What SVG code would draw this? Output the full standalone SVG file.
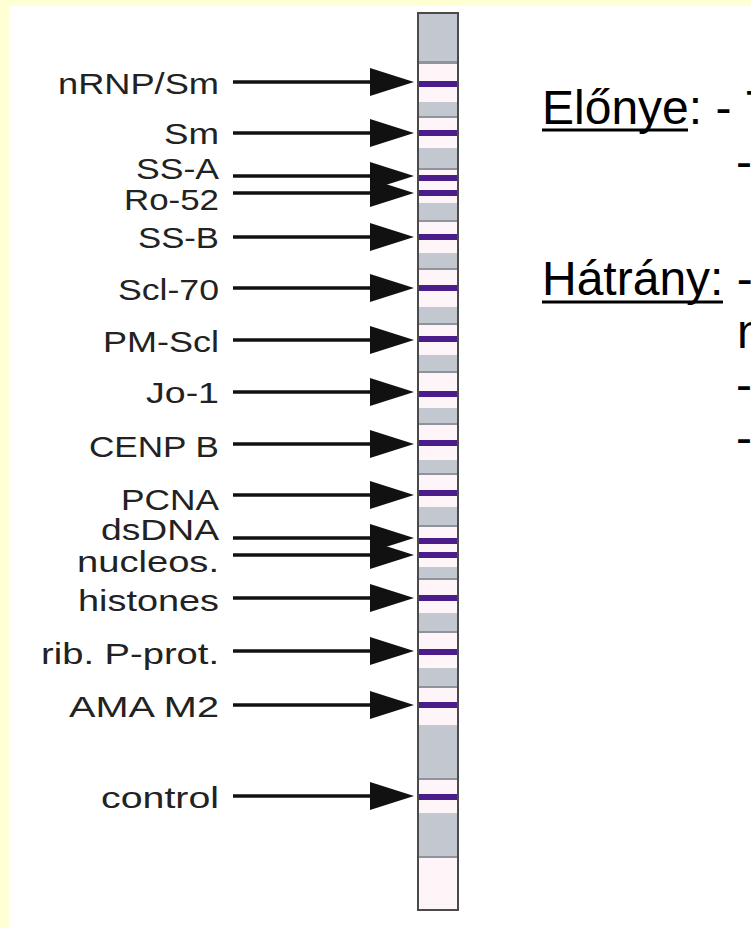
<svg xmlns="http://www.w3.org/2000/svg" width="751" height="928" viewBox="0 0 751 928">
<defs>
<style>
.lbl{font-family:"Liberation Sans",Arial,Helvetica,sans-serif;font-size:29px;fill:#222;text-anchor:end}
.big{font-family:"Liberation Sans",Arial,Helvetica,sans-serif;font-size:48px;fill:#000}
.conn line{stroke:#111;stroke-width:3.5}
.conn polygon{fill:#111}
.grey{fill:#c3c7cf}
.gline{fill:#8f939b}
.band{fill:#4a1d8a}
.ul{stroke:#000;stroke-width:3}
</style>
</defs>
<rect x="0" y="0" width="751" height="928" fill="#ffffd4"/>
<rect x="9" y="6" width="742" height="922" fill="#ffffff"/>

<g id="strip">
<rect x="418" y="13" width="40" height="897" fill="#fdf5f8"/>
<g>
<rect class="grey" x="418" y="13" width="40" height="50"/><rect class="gline" x="418" y="61" width="40" height="3"/>
<rect class="grey" x="418" y="102" width="40" height="16"/><rect class="gline" x="418" y="116" width="40" height="2"/>
<rect class="grey" x="418" y="148" width="40" height="22"/><rect class="gline" x="418" y="168" width="40" height="2"/>
<rect class="grey" x="418" y="203" width="40" height="19"/><rect class="gline" x="418" y="220" width="40" height="2"/>
<rect class="grey" x="418" y="253" width="40" height="17"/><rect class="gline" x="418" y="268" width="40" height="2"/>
<rect class="grey" x="418" y="307" width="40" height="18"/><rect class="gline" x="418" y="323" width="40" height="2"/>
<rect class="grey" x="418" y="355" width="40" height="18"/><rect class="gline" x="418" y="371" width="40" height="2"/>
<rect class="grey" x="418" y="408" width="40" height="17"/><rect class="gline" x="418" y="423" width="40" height="2"/>
<rect class="grey" x="418" y="460" width="40" height="15"/><rect class="gline" x="418" y="473" width="40" height="2"/>
<rect class="grey" x="418" y="507" width="40" height="20"/><rect class="gline" x="418" y="525" width="40" height="2"/>
<rect class="grey" x="418" y="567" width="40" height="13"/><rect class="gline" x="418" y="578" width="40" height="2"/>
<rect class="grey" x="418" y="613" width="40" height="20"/><rect class="gline" x="418" y="631" width="40" height="2"/>
<rect class="grey" x="418" y="668" width="40" height="20"/><rect class="gline" x="418" y="686" width="40" height="2"/>
<rect class="grey" x="418" y="725" width="40" height="55"/><rect class="gline" x="418" y="778" width="40" height="2"/>
<rect class="grey" x="418" y="813" width="40" height="45"/><rect class="gline" x="418" y="856" width="40" height="2"/>
</g>
<g>
<rect class="band" x="418" y="81" width="40" height="6"/>
<rect class="band" x="418" y="130" width="40" height="6"/>
<rect class="band" x="418" y="175" width="40" height="6"/>
<rect class="band" x="418" y="190" width="40" height="6"/>
<rect class="band" x="418" y="234" width="40" height="6"/>
<rect class="band" x="418" y="285" width="40" height="6"/>
<rect class="band" x="418" y="336" width="40" height="6"/>
<rect class="band" x="418" y="391" width="40" height="6"/>
<rect class="band" x="418" y="440" width="40" height="6"/>
<rect class="band" x="418" y="490" width="40" height="6"/>
<rect class="band" x="418" y="538" width="40" height="6"/>
<rect class="band" x="418" y="552" width="40" height="6"/>
<rect class="band" x="418" y="595" width="40" height="6"/>
<rect class="band" x="418" y="649" width="40" height="6"/>
<rect class="band" x="418" y="702" width="40" height="6"/>
<rect class="band" x="418" y="794" width="40" height="6"/>
</g>
<rect x="418" y="13" width="40" height="897" fill="none" stroke="#4a4a4a" stroke-width="2"/>
</g>

<g id="labels">
<g id="n-nrnp"><text class="lbl" x="219" y="94" textLength="161" lengthAdjust="spacingAndGlyphs">nRNP/Sm</text></g>
<g id="n-sm"><text class="lbl" x="219" y="144" textLength="55" lengthAdjust="spacingAndGlyphs">Sm</text></g>
<g id="n-ssa"><text class="lbl" x="219" y="179" textLength="83" lengthAdjust="spacingAndGlyphs">SS-A</text></g>
<g id="n-ro52"><text class="lbl" x="219" y="210" textLength="95" lengthAdjust="spacingAndGlyphs">Ro-52</text></g>
<g id="n-ssb"><text class="lbl" x="219" y="248" textLength="81" lengthAdjust="spacingAndGlyphs">SS-B</text></g>
<g id="n-scl70"><text class="lbl" x="219" y="300" textLength="101" lengthAdjust="spacingAndGlyphs">Scl-70</text></g>
<g id="n-pmscl"><text class="lbl" x="219" y="352" textLength="116" lengthAdjust="spacingAndGlyphs">PM-Scl</text></g>
<g id="n-jo1"><text class="lbl" x="219" y="403" textLength="73" lengthAdjust="spacingAndGlyphs">Jo-1</text></g>
<g id="n-cenpb"><text class="lbl" x="219" y="457" textLength="130" lengthAdjust="spacingAndGlyphs">CENP B</text></g>
<g id="n-pcna"><text class="lbl" x="219" y="510" textLength="98" lengthAdjust="spacingAndGlyphs">PCNA</text></g>
<g id="n-dsdna"><text class="lbl" x="219" y="540" textLength="118" lengthAdjust="spacingAndGlyphs">dsDNA</text></g>
<g id="n-nucleos"><text class="lbl" x="219" y="572" textLength="142" lengthAdjust="spacingAndGlyphs">nucleos.</text></g>
<g id="n-histones"><text class="lbl" x="219" y="611" textLength="141" lengthAdjust="spacingAndGlyphs">histones</text></g>
<g id="n-ribp"><text class="lbl" x="219" y="664" textLength="178" lengthAdjust="spacingAndGlyphs">rib. P-prot.</text></g>
<g id="n-amam2"><text class="lbl" x="219" y="717" textLength="150" lengthAdjust="spacingAndGlyphs">AMA M2</text></g>
<g id="n-control"><text class="lbl" x="219" y="808" textLength="118" lengthAdjust="spacingAndGlyphs">control</text></g>
</g>

<g id="connectors" class="conn">
<line x1="233" y1="82" x2="375" y2="82"/><polygon points="370,68 414,82 370,96"/>
<line x1="233" y1="133" x2="375" y2="133"/><polygon points="370,119 414,133 370,147"/>
<line x1="233" y1="176" x2="375" y2="176"/><polygon points="370,162 414,176 370,190"/>
<line x1="233" y1="193" x2="375" y2="193"/><polygon points="370,179 414,193 370,207"/>
<line x1="233" y1="237" x2="375" y2="237"/><polygon points="370,223 414,237 370,251"/>
<line x1="233" y1="288" x2="375" y2="288"/><polygon points="370,274 414,288 370,302"/>
<line x1="233" y1="340" x2="375" y2="340"/><polygon points="370,326 414,340 370,354"/>
<line x1="233" y1="392" x2="375" y2="392"/><polygon points="370,378 414,392 370,406"/>
<line x1="233" y1="444" x2="375" y2="444"/><polygon points="370,430 414,444 370,458"/>
<line x1="233" y1="495" x2="375" y2="495"/><polygon points="370,481 414,495 370,509"/>
<line x1="233" y1="538" x2="375" y2="538"/><polygon points="370,524 414,538 370,552"/>
<line x1="233" y1="555" x2="375" y2="555"/><polygon points="370,541 414,555 370,569"/>
<line x1="233" y1="598" x2="375" y2="598"/><polygon points="370,584 414,598 370,612"/>
<line x1="233" y1="651" x2="375" y2="651"/><polygon points="370,637 414,651 370,665"/>
<line x1="233" y1="705" x2="375" y2="705"/><polygon points="370,691 414,705 370,719"/>
<line x1="233" y1="796" x2="375" y2="796"/><polygon points="370,782 414,796 370,810"/>
</g>

<g id="text-right">
<text class="big" x="542" y="124">Előnye: -<tspan x="746">T</tspan></text>
<line class="ul" x1="542" y1="130" x2="688" y2="130"/>
<text class="big" x="736" y="178">-</text>
<text class="big" x="542" y="295">Hátrány: -</text>
<line class="ul" x1="542" y1="302" x2="723" y2="302"/>
<text class="big" x="737" y="348">n</text>
<text class="big" x="736" y="401">-</text>
<text class="big" x="736" y="454">-</text>
</g>
</svg>
